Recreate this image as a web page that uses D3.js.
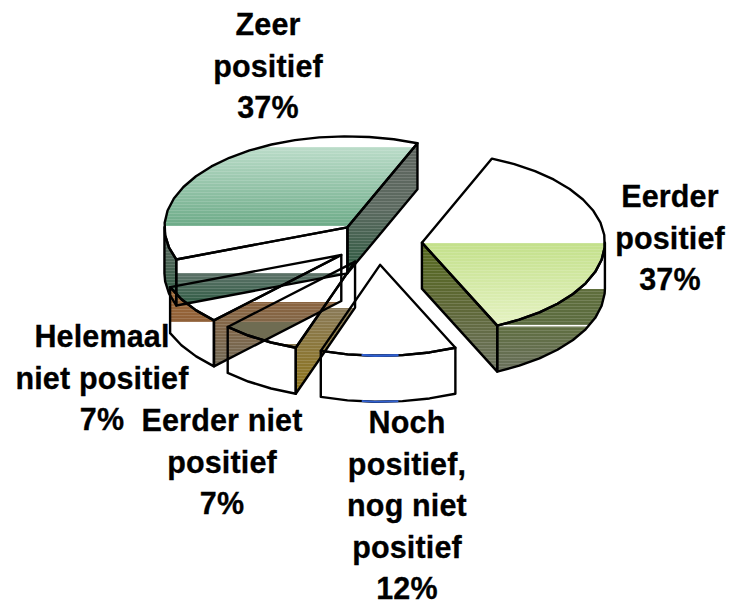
<!DOCTYPE html>
<html><head><meta charset="utf-8">
<script src="https://cdn.jsdelivr.net/npm/d3@7/dist/d3.min.js"></script>
<style>html,body{margin:0;padding:0;background:#fff}svg{display:block}</style></head>
<body><svg id="c" width="730" height="602"></svg>
<script>
// DATA
const categories = ["Eerder positief","Noch positief, nog niet positief","Eerder niet positief","Helemaal niet positief","Zeer positief"];
const values = [37,12,7,7,37];
const percentLabels = ["37%","12%","7%","7%","37%"];
const labelLines = [["Eerder","positief","37%"],["Noch","positief,","nog niet","positief","12%"],["Eerder niet","positief","7%"],["Helemaal","niet positief","7%"],["Zeer","positief","37%"]];

// LAYOUT / STYLE
const W=730,H=602, cx=378, cy=243, rx=183, ry=91, depth=46, explode=0.24;
const startAngle=22.5*Math.PI/180;
const labelPos=[[670,207],[407,433],[222,431],[102,347],[268,35]];
const lineStep=41.5;
const svg=d3.select("#c");
const defs=svg.append("defs");
const X=d3.scaleLinear().domain([-1,1]).range([cx-rx,cx+rx]);
const Y=d3.scaleLinear().domain([-1,1]).range([cy+ry,cy-ry]);
const pie=d3.pie().sort(null).startAngle(startAngle).endAngle(startAngle+2*Math.PI);
const arcs=pie(values);
const line=d3.line();
const P=(a,r,off,dz=0)=>[X(off[0]+r*Math.sin(a)),Y(off[1]+r*Math.cos(a))+dz];
const slices=arcs.map((d,i)=>{
  const mid=(d.startAngle+d.endAngle)/2;
  const off=[explode*Math.sin(mid),explode*Math.cos(mid)];
  const n=Math.max(3,Math.round((d.endAngle-d.startAngle)/(8*Math.PI/180)));
  const rim=d3.range(n+1).map(k=>d.startAngle+(d.endAngle-d.startAngle)*k/n);
  const face=[P(0,0,off),...rim.map(a=>P(a,1,off))];
  const wall=a=>[P(a,0,off),P(a,1,off),P(a,1,off,depth),P(a,0,off,depth)];
  const lo=Math.PI/2,hi=1.5*Math.PI;
  const front=rim.filter(a=>a>=lo&&a<=hi);
  const s0=Math.max(d.startAngle,lo), e0=Math.min(d.endAngle,hi);
  const fa=[s0,...front.filter(a=>a>s0&&a<e0),e0];
  const outer=[...fa.map(a=>P(a,1,off)),...fa.slice().reverse().map(a=>P(a,1,off,depth))];
  return {face,outer,start:wall(d.startAngle),end:wall(d.endAngle),apex:P(0,0,off)};
});
const visibleWalls=[["end"],[],["start"],["start"],["start","end"]];
const bands=[
 [4,"end",143,275,["#5f655f","#5c6a60","#2c5a40"]],
 [4,"outer",225,305,["#666e68","#2c5a40"]],
 [4,"start",273,304,["#5d7268","#2f5c44"]],
 [4,"face",147,226,["#bbdcc9","#6dab88"]],
 [3,"outer",288,322,["#a06a38","#8f6038"]],
 [3,"start",302,372,["#8a6440","#6f6a58"]],
 [2,"face",344,346,["#8a7a50","#8a7a50"]],
 [2,"start",308,396,["#8a7a58","#8d7418"]],
 [0,"end",241,376,["#55691e","#5f6838","#6f7565"]],
 [0,"outer",289,325,["#5f6e3c","#5c6c40"]],
 [0,"outer",326.5,376,["#5f6e40","#6b7060"]],
 [0,"face",243,328,["#c3e08a","#e6f3c4"]],
];
const stripe=defs.append("pattern").attr("id","stripe").attr("patternUnits","userSpaceOnUse").attr("width",8).attr("height",3);
stripe.append("rect").attr("width",8).attr("height",1).attr("fill","#fff").attr("opacity",.14);

const order=[4,3,2,1,0];
const base=svg.append("g");
order.forEach(i=>{
  const s=slices[i];
  visibleWalls[i].forEach(w=>base.append("path").attr("d",line(s[w])+"Z").attr("fill","#fff"));
  base.append("path").attr("d",line(s.outer)+"Z").attr("fill","#fff");
  base.append("path").attr("d",line(s.face)+"Z").attr("fill","#fff");
});
const bandG=svg.append("g");
bands.forEach((b,k)=>{
  const [i,part,y0,y1,stops]=b;
  const cid="cl"+k, gid="gr"+k;
  defs.append("clipPath").attr("id",cid).append("path").attr("d",line(slices[i][part])+"Z");
  const g=defs.append("linearGradient").attr("id",gid).attr("x1",0).attr("y1",0).attr("x2",0).attr("y2",1);
  stops.forEach((c,j)=>g.append("stop").attr("offset",j/(stops.length-1)).attr("stop-color",c));
  const gg=bandG.append("g").attr("clip-path",`url(#${cid})`);
  gg.append("rect").attr("x",0).attr("y",y0).attr("width",W).attr("height",y1-y0).attr("fill",`url(#${gid})`);
  gg.append("rect").attr("x",0).attr("y",y0).attr("width",W).attr("height",y1-y0).attr("fill","url(#stripe)");
});
// greenish tone where the brown wall lies under the Eerder niet face
defs.append("clipPath").attr("id","clOverlap").append("path").attr("d",line(slices[2].face)+"Z");
defs.append("clipPath").attr("id","clOverlap2").append("path").attr("d",line(slices[3].start)+"Z");
bandG.append("g").attr("clip-path","url(#clOverlap)").append("g").attr("clip-path","url(#clOverlap2)")
  .append("rect").attr("x",0).attr("y",322).attr("width",W).attr("height",40).attr("fill","#6f6c52");
// outlines
const lines=svg.append("g").attr("fill","none").attr("stroke","#000").attr("stroke-width",2.4).attr("stroke-linejoin","round");
order.forEach(i=>{
  const s=slices[i];
  visibleWalls[i].forEach(w=>lines.append("path").attr("d",line(s[w])+"Z"));
  lines.append("path").attr("d",line(s.outer)+"Z");
  lines.append("path").attr("d",line(s.face)+"Z");
});
// blue pieces of the Noch outline, at the lowest part of its rim
const lowest=d3.max(slices[1].face,p=>p[1]);
const blueHalf=0.1*rx;
defs.append("clipPath").attr("id","clBlue").selectAll("rect").data([0,depth]).join("rect")
  .attr("x",slices[1].apex[0]-blueHalf).attr("width",2*blueHalf).attr("y",d=>lowest+d-2).attr("height",5);
const blue=svg.append("g").attr("clip-path","url(#clBlue)").attr("fill","none").attr("stroke","#2f5fd0").attr("stroke-width",2);
blue.append("path").attr("d",line(slices[1].face)+"Z");
blue.append("path").attr("d",line(slices[1].outer)+"Z");
// labels
const t=svg.append("g").attr("font-family","'Liberation Sans',Arial,sans-serif").attr("font-weight","bold").attr("font-size",30.5).attr("letter-spacing",0.15).attr("stroke","#000").attr("stroke-width",0.3).attr("fill","#000").attr("text-anchor","middle");
labelLines.forEach((ls,i)=>{
  const el=t.append("text").attr("x",labelPos[i][0]).attr("y",labelPos[i][1]);
  ls.forEach((l,j)=>el.append("tspan").attr("x",labelPos[i][0]).attr("y",labelPos[i][1]+j*lineStep).text(l));
});
</script></body></html>
